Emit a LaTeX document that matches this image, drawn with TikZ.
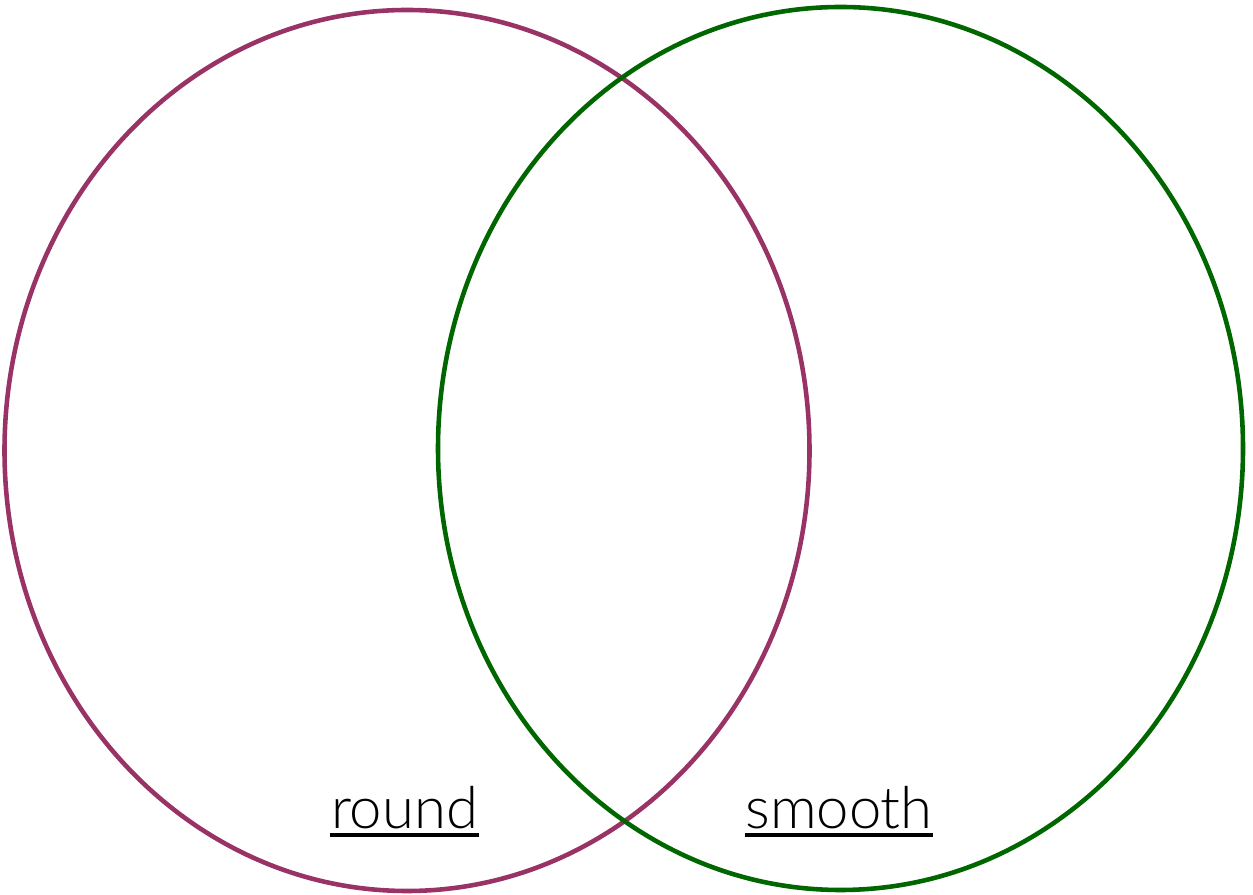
\documentclass[tikz,border=0pt]{standalone}
\usepackage{fontspec}
\setmainfont{Lato Light}
\usepackage{tikz}
\usetikzlibrary{shapes.geometric}
\definecolor{vennplum}{RGB}{153,51,102}
\definecolor{venngreen}{RGB}{0,102,0}

\begin{document}
\begin{tikzpicture}[
  every node/.style={font=\fontsize{16.5}{19}\selectfont},
  setring/.style={ellipse, draw, line width=1.3pt, inner sep=0pt,
                  minimum width=8.05cm, minimum height=8.81cm},
  setlabel/.style={inner sep=0pt, anchor=base},
  uline/.style={line width=1.15pt}
]
  \useasboundingbox (0,0) rectangle (12.53,8.95);
  \node[setring, draw=vennplum] (roundset) at (4.07,4.445) {};
  \node[setring, draw=venngreen, minimum height=8.83cm] (smoothset) at (8.405,4.465) {};
  \node[setlabel] (roundlab) at (4.045,0.67) {round};
  \node[setlabel] (smoothlab) at (8.39,0.67) {smooth};
  \draw[uline] ([yshift=-0.07cm]roundlab.base west) -- ([yshift=-0.07cm]roundlab.base east);
  \draw[uline] ([yshift=-0.07cm]smoothlab.base west) -- ([yshift=-0.07cm]smoothlab.base east);
\end{tikzpicture}
\end{document}
